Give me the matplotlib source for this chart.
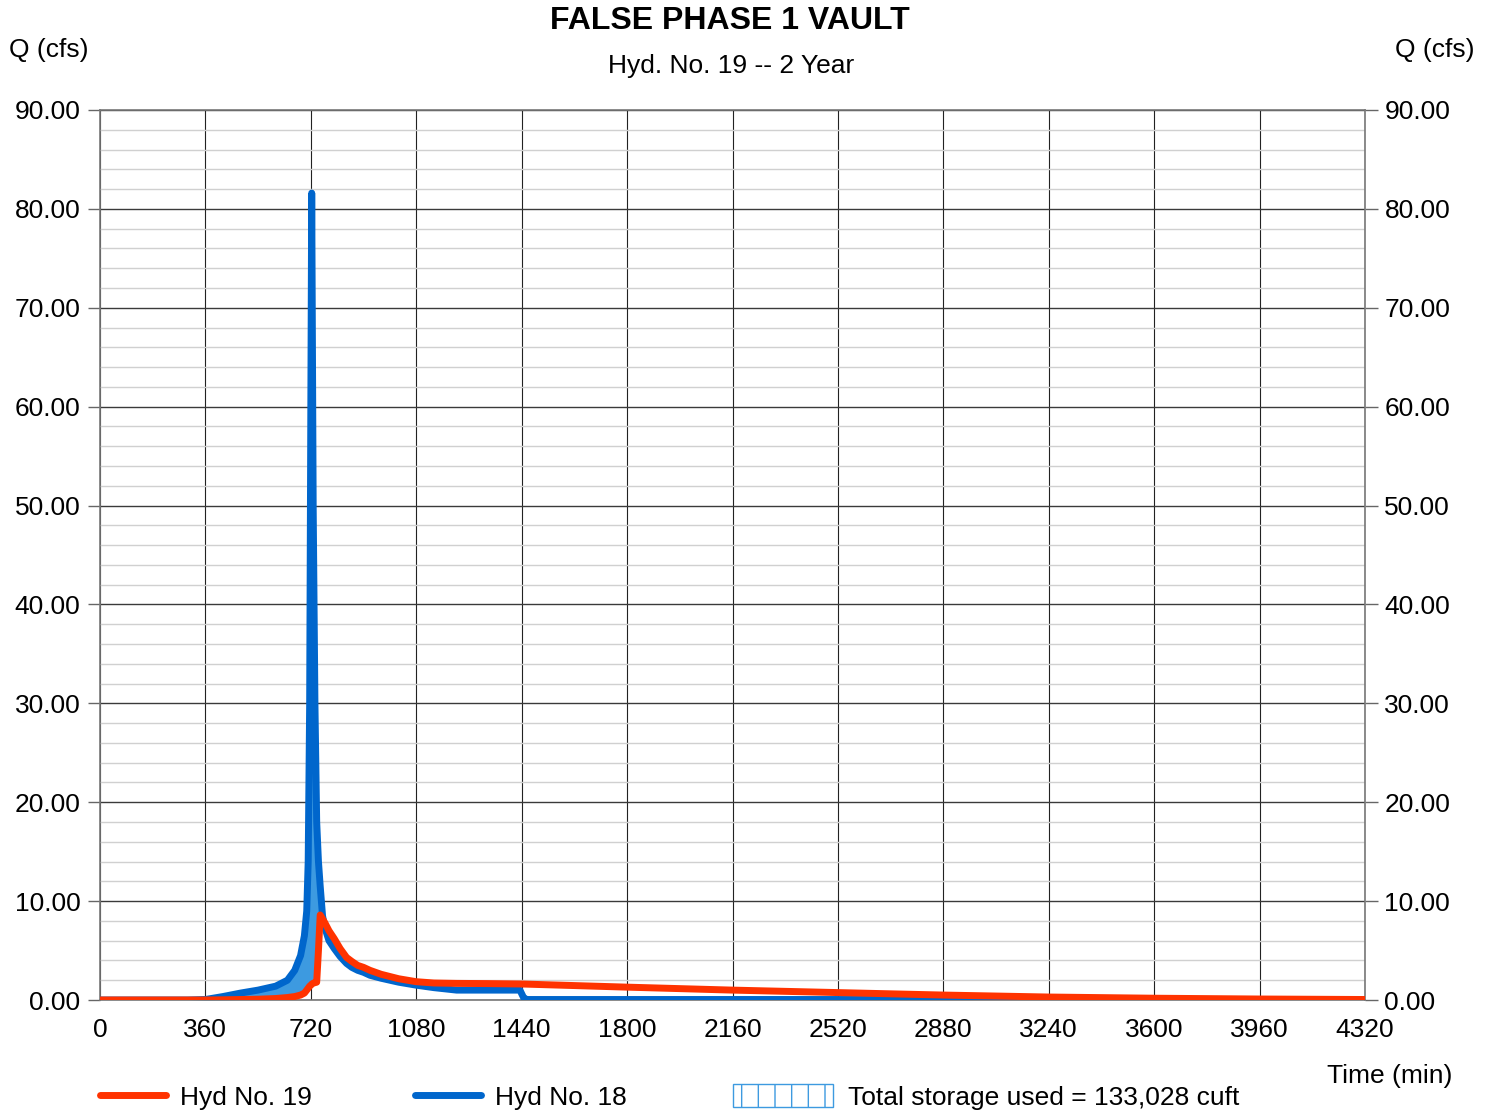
import numpy as np
import matplotlib.pyplot as plt
from matplotlib.lines import Line2D
from matplotlib.patches import Patch
from matplotlib.ticker import MultipleLocator, FormatStrFormatter

plt.rcParams['font.family'] = ['Liberation Sans', 'DejaVu Sans']

# Hydrograph ordinates (min, cfs)
time_min = [0, 300, 360, 420, 480, 540, 600, 640, 665, 685, 698, 706, 711, 716,
            720, 723, 728, 734, 740, 746, 752, 760, 768, 782, 800, 820, 842, 860,
            880, 900, 922, 960, 1020, 1080, 1140, 1218, 1320, 1434, 1448, 1460,
            1800, 2160, 2520, 2880, 3240, 3600, 3960, 4320]
hyd18_q = [0, 0, 0.05, 0.35, 0.7, 1.0, 1.4, 2.0, 3.0, 4.5, 6.5, 9.0, 14.0, 30.0,
           60.0, 81.6, 50.0, 30.0, 18.0, 14.0, 11.5, 8.5, 7.3, 6.0, 5.2, 4.4, 3.7, 3.3,
           3.0, 2.8, 2.5, 2.2, 1.8, 1.5, 1.25, 1.0, 1.0, 1.0, 0.15, 0.05,
           0.05, 0.05, 0.05, 0.05, 0.04, 0.03, 0.02, 0.02]
hyd19_q = [0, 0, 0, 0.02, 0.05, 0.08, 0.15, 0.25, 0.35, 0.5, 0.7, 1.0, 1.2, 1.4,
           1.5, 1.6, 1.7, 1.75, 1.8, 5.0, 8.6, 8.2, 7.8, 7.0, 6.2, 5.2, 4.3, 3.9,
           3.5, 3.3, 3.0, 2.6, 2.15, 1.85, 1.72, 1.68, 1.66, 1.62, 1.61, 1.6,
           1.3, 1.0, 0.75, 0.5, 0.3, 0.18, 0.1, 0.05]

storage_cuft = 133028
x_ticks = np.arange(0, 4321, 360)

t = np.array(time_min)
q_in = np.array(hyd18_q)
q_out = np.array(hyd19_q)

RED = '#ff3300'
BLUE = '#0066cc'
FILL = '#3d9ae0'
FS = 19

fig = plt.figure(figsize=(14.92, 11.12), dpi=100)
ax = fig.add_axes([100 / 1492, 1 - 1000 / 1112, 1265 / 1492, 890 / 1112])

# storage = inflow above outflow
ax.fill_between(t, q_out, q_in, where=q_in >= q_out, interpolate=True,
                color=FILL, lw=0, zorder=2)
ax.plot(t, q_in, color=BLUE, lw=5, solid_capstyle='round', zorder=3)
ax.plot(t, q_out, color=RED, lw=5, solid_capstyle='round', zorder=4)

ax.set_xlim(0, 4320)
ax.set_ylim(0, 90)
ax.set_xticks(x_ticks)
ax.yaxis.set_major_locator(MultipleLocator(10))
ax.yaxis.set_minor_locator(MultipleLocator(2))
ax.yaxis.set_major_formatter(FormatStrFormatter('%.2f'))

ax.grid(which='major', axis='y', color='#3a3a3a', lw=1.0, zorder=1)
ax.grid(which='minor', axis='y', color='#d0d0d0', lw=1.0, zorder=0)
ax.grid(which='major', axis='x', color='#222222', lw=0.8, zorder=1)

ax.tick_params(axis='y', which='major', direction='out', length=9, width=1,
               color='#666666', labelsize=FS, pad=5, right=True, labelright=True)
ax.tick_params(axis='y', which='minor', length=0)
ax.tick_params(axis='x', length=0, labelsize=FS, pad=13)

for side in ax.spines.values():
    side.set_color('#777777')
    side.set_linewidth(1.2)

fig.text(730 / 1492, 1 - 21 / 1112, 'FALSE PHASE 1 VAULT', ha='center', va='center',
         fontsize=23, fontweight='bold')
fig.text(731 / 1492, 1 - 66 / 1112, 'Hyd. No. 19 -- 2 Year', ha='center', va='center',
         fontsize=FS)
fig.text(49 / 1492, 1 - 50 / 1112, 'Q (cfs)', ha='center', va='center', fontsize=FS)
fig.text(1435 / 1492, 1 - 50 / 1112, 'Q (cfs)', ha='center', va='center', fontsize=FS)
fig.text(1390 / 1492, 1 - 1076 / 1112, 'Time (min)', ha='center', va='center',
         fontsize=FS)

legend_items = [
    (Line2D([], [], color=RED, lw=5, solid_capstyle='round'), 'Hyd No. 19', 100, 2.5),
    (Line2D([], [], color=BLUE, lw=5, solid_capstyle='round'), 'Hyd No. 18', 415, 2.5),
    (Patch(facecolor='white', edgecolor=FILL, hatch='|', lw=1),
     f'Total storage used = {storage_cuft:,} cuft', 733, 3.8),
]
for handle, label, x_px, hlen in legend_items:
    leg = fig.legend([handle], [label], loc='center left',
                     bbox_to_anchor=(x_px / 1492, 1 - 1097 / 1112), frameon=False,
                     fontsize=FS, handlelength=hlen, handletextpad=0.55,
                     handleheight=0.95, borderaxespad=0, borderpad=0)

fig.savefig('out.png', dpi=100)
